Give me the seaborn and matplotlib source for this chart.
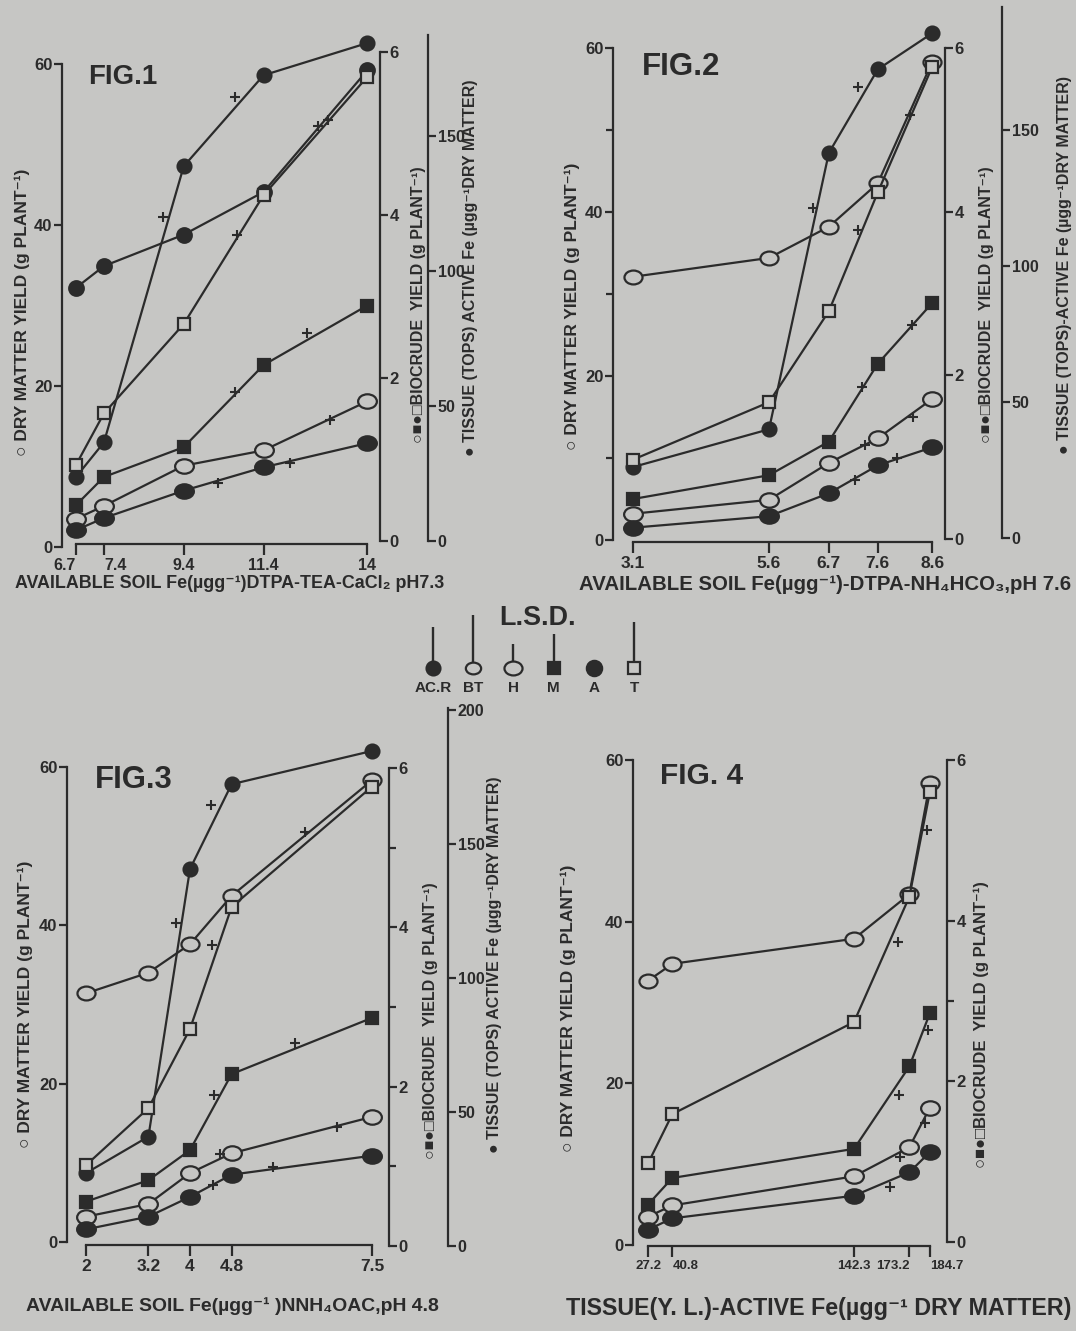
import matplotlib
matplotlib.use("Agg")
import matplotlib.pyplot as plt
import seaborn as sns
from matplotlib.path import Path
from matplotlib.transforms import Affine2D

# ---------------- data (left-axis units) ----------------
fig1_x = [6.7, 7.4, 9.4, 11.4, 14.0]
fig1_xticklabels = ['6.7', '7.4', '9.4', '11.4', '14']
fig1_tissue = [8.7, 13.0, 47.3, 58.6, 62.6]
fig1_upper = [32.2, 34.9, 38.8, 44.1, 59.2]
fig1_osq = [10.2, 16.6, 27.7, 43.7, 58.4]
fig1_fsq = [5.2, 8.7, 12.4, 22.6, 30.0]
fig1_ocirc = [3.5, 5.1, 10.1, 12.0, 18.1]
fig1_fcirc = [2.1, 3.6, 7.0, 9.9, 12.9]
fig1_plus_x = [8.88, 10.68, 10.73, 12.77, 13.02, 10.68, 12.5, 13.07, 10.26, 12.06]
fig1_plus_y = [41.0, 55.9, 38.8, 52.3, 53.0, 19.3, 26.6, 15.8, 7.9, 10.4]

fig2_x = [3.1, 5.6, 6.7, 7.6, 8.6]
fig2_xticklabels = ['3.1', '5.6', '6.7', '7.6', '8.6']
fig2_tissue = [8.9, 13.5, 47.2, 57.4, 61.8]
fig2_upper = [32.1, 34.4, 38.2, 43.5, 58.3]
fig2_osq = [9.8, 16.8, 27.9, 42.4, 57.7]
fig2_fsq = [5.0, 7.9, 12.0, 21.5, 28.9]
fig2_ocirc = [3.2, 4.9, 9.4, 12.4, 17.2]
fig2_fcirc = [1.5, 2.9, 5.7, 9.1, 11.3]
fig2_plus_x = [6.41, 7.24, 7.24, 8.19, 7.31, 8.23, 7.36, 8.25, 7.18, 7.95]
fig2_plus_y = [40.5, 55.3, 37.8, 51.8, 18.7, 26.2, 11.6, 15.0, 7.3, 10.0]

fig3_x = [2.0, 3.2, 4.0, 4.8, 7.5]
fig3_xticklabels = ['2', '3.2', '4', '4.8', '7.5']
fig3_tissue = [8.7, 13.3, 47.1, 57.8, 62.0]
fig3_upper = [31.4, 34.0, 37.6, 43.7, 58.3]
fig3_osq = [9.7, 16.9, 26.9, 42.3, 57.5]
fig3_fsq = [5.1, 7.8, 11.6, 21.2, 28.3]
fig3_ocirc = [3.2, 4.8, 8.7, 11.2, 15.8]
fig3_fcirc = [1.6, 3.2, 5.7, 8.5, 10.9]
fig3_plus_x = [3.73, 4.40, 4.42, 6.21, 4.46, 6.02, 4.58, 6.83, 4.44, 5.60]
fig3_plus_y = [40.3, 55.2, 37.5, 51.8, 18.6, 25.1, 11.1, 14.5, 7.2, 9.5]

fig4_x = [27.2, 40.8, 142.3, 173.2, 184.7]
fig4_xticklabels = ['27.2', '40.8', '142.3', '173.2', '184.7']
fig4_upper = [32.7, 34.8, 37.9, 43.4, 57.2]
fig4_osq = [10.1, 16.2, 27.6, 43.1, 56.1]
fig4_fsq = [5.0, 8.3, 11.9, 22.1, 28.7]
fig4_ocirc = [3.5, 4.9, 8.5, 12.1, 17.0]
fig4_fcirc = [1.9, 3.3, 6.1, 9.0, 11.5]
fig4_plus_x = [183.1, 166.9, 167.4, 183.6, 181.9, 168.0, 162.4]
fig4_plus_y = [51.4, 37.5, 18.6, 26.6, 15.1, 10.9, 7.2]

lsd_labels = ['AC.R', 'BT', 'H', 'M', 'A', 'T']
lsd_lengths = [35, 47, 18, 28, 0, 40]

left_ticks = [0, 20, 40, 60]
bio_ticks = [0, 2, 4, 6]
tissue_ticks = [0, 50, 100, 150]
tissue_ticks3 = [0, 50, 100, 150, 200]

# ---------------- style ----------------
sns.set_theme(style="ticks")
plt.rcParams['font.family'] = ['Liberation Sans Narrow', 'Liberation Sans', 'DejaVu Sans']
plt.rcParams['font.weight'] = 'bold'
BG = '#c6c6c4'
INK = '#2b2b2b'
plt.rcParams['axes.edgecolor'] = INK
plt.rcParams['figure.facecolor'] = BG
plt.rcParams['axes.facecolor'] = BG

W, H = 1076, 1331
fig = plt.figure(figsize=(W / 100, H / 100), dpi=100)
renderer = fig.canvas.get_renderer()

ELL = Path.unit_circle().transformed(Affine2D().scale(1.3, 1.0))
LW = 1.6


def fbox(l, r, t, b):
    return [l / W, 1 - b / H, (r - l) / W, (b - t) / H]


def put_text(s, xc, yc, length=None, rot=0, size=12, maxsize=None, **kw):
    t = fig.text(xc / W, 1 - yc / H, s, rotation=rot, ha='center', va='center',
                 fontsize=size, color=INK, **kw)
    if length:
        bb = t.get_window_extent(renderer=renderer)
        cur = bb.height if rot == 90 else bb.width
        new = size * length / cur
        if maxsize:
            new = min(new, maxsize)
        t.set_fontsize(new)
    return t


STY = {
    'tissue': dict(marker='o', ms=10, fc=INK),
    'upper_f': dict(marker='o', ms=10.5, fc=INK),
    'upper_o': dict(marker=ELL, ms=13, fc=BG),
    'osq': dict(marker='s', ms=9, fc=BG),
    'fsq': dict(marker='s', ms=9, fc=INK),
    'ocirc': dict(marker=ELL, ms=13.5, fc=BG),
    'fcirc': dict(marker=ELL, ms=13.5, fc=INK),
}


def style_twin(tw, pos, bound_top, ticks, minor, lsize):
    for s in ['top', 'bottom', 'left']:
        tw.spines[s].set_visible(False)
    tw.spines['right'].set_position(('axes', pos))
    tw.spines['right'].set_bounds(0, bound_top)
    tw.spines['right'].set_linewidth(1.6)
    tw.set_yticks(ticks)
    tw.set_yticklabels([str(v) for v in ticks])
    tw.set_yticks(minor, minor=True)
    tw.tick_params(axis='y', which='both', direction='out', right=True, left=False,
                   labelright=True, labelleft=False, width=1.6, colors=INK,
                   labelsize=lsize, pad=1)
    tw.tick_params(axis='y', which='major', length=6)
    tw.tick_params(axis='y', which='minor', length=5)
    tw.grid(False)


def draw_panel(p):
    l, r, t, b = p['box']
    ax = fig.add_axes(fbox(l, r, t, b))
    ax.set_facecolor('none')
    xs = p['x']
    for key, yv in p['series']:
        st = STY[key]
        sns.lineplot(x=xs, y=yv, ax=ax, color=INK, linewidth=LW, marker=st['marker'],
                     markersize=st['ms'], markerfacecolor=st['fc'], markeredgecolor=INK,
                     markeredgewidth=1.6, sort=False, estimator=None, legend=False)
    sns.scatterplot(x=p['plus_x'], y=p['plus_y'], ax=ax, marker='+', s=60, color=INK,
                    linewidth=1.5, legend=False, zorder=4)
    x0, x0px, sx = p['xmap']
    y0px, sy = p['ymap']
    ax.set_xlim(x0 + (l - x0px) / sx, x0 + (r - x0px) / sx)
    ax.set_ylim((y0px - b) / sy, (y0px - t) / sy)
    ax.set_xlabel('')
    ax.set_ylabel('')
    ax.spines['top'].set_visible(False)
    ax.spines['right'].set_visible(False)
    ax.spines['left'].set_bounds(0, 60)
    ax.spines['bottom'].set_position(('data', (y0px - p['xaxis_px']) / sy))
    ax.spines['bottom'].set_bounds(xs[0], xs[-1])
    for s in ['left', 'bottom']:
        ax.spines[s].set_linewidth(1.6)
    ax.set_xticks(xs)
    ax.set_xticklabels(p['xtl'])
    ax.set_yticks(left_ticks)
    ax.set_yticklabels([str(v) for v in left_ticks])
    ax.set_yticks(p.get('yminor', []), minor=True)
    ax.tick_params(axis='both', which='both', direction='out', width=1.6, colors=INK)
    ax.tick_params(axis='y', which='major', length=6, labelsize=12, pad=1)
    ax.tick_params(axis='y', which='minor', length=5)
    ax.tick_params(axis='x', length=8, labelsize=p.get('xtsize', 12.5), pad=2)
    for i, ha in p.get('xt_ha', {}).items():
        ax.get_xticklabels()[i].set_horizontalalignment(ha)
    ax.grid(False)

    bz, bs, bx = p['bio']
    bio = ax.twinx()
    bio.set_ylim((bz - b) / bs, (bz - t) / bs)
    style_twin(bio, (bx - l) / (r - l), 6, bio_ticks, p.get('bminor', []), 12)

    if 'tissue' in p:
        tz, ts, tx, ttop, tt = p['tissue']
        tis = ax.twinx()
        tis.set_ylim((tz - b) / ts, (tz - t) / ts)
        style_twin(tis, (tx - l) / (r - l), (tz - ttop) / ts, tt, [], 11.5)

    title, tl, tr, tyc = p['title']
    put_text(title, (tl + tr) / 2, tyc, length=tr - tl, size=22)
    for s, xc, yc, ln, mx in p['vlabels']:
        put_text(s, xc, yc, length=ln, rot=90, size=11, maxsize=mx)
    s, xl_, xr_, yc = p['xlabel']
    put_text(s, (xl_ + xr_) / 2, yc, length=xr_ - xl_, size=15)


DM = '\u25cb DRY MATTER YIELD (g PLANT\u207b\u00b9)'
BIO = '\u25cb\u25a0\u25cf\u25a1BIOCRUDE  YIELD (g PLANT\u207b\u00b9)'
TIS = '\u25cf TISSUE (TOPS) ACTIVE Fe (\u00b5gg\u207b\u00b9DRY MATTER)'
TIS2 = '\u25cf TISSUE (TOPS)-ACTIVE Fe (\u00b5gg\u207b\u00b9DRY MATTER)'

panels = [
    dict(x=fig1_x, xtl=fig1_xticklabels, xtsize=11.5, xt_ha={0: 'right', 1: 'left'},
         series=[('tissue', fig1_tissue), ('upper_f', fig1_upper), ('osq', fig1_osq),
                 ('fsq', fig1_fsq), ('ocirc', fig1_ocirc), ('fcirc', fig1_fcirc)],
         plus_x=fig1_plus_x, plus_y=fig1_plus_y,
         box=(62, 380, 20, 560), xmap=(6.7, 76, 39.9), ymap=(547, 8.05), xaxis_px=544,
         bio=(541, 81.5, 380), tissue=(541, 2.7, 428, 35, tissue_ticks),
         title=('FIG.1', 88, 157, 77),
         vlabels=[(DM, 22, 312, 309, 12.5), (BIO, 419, 305, 370, 11.5),
                  (TIS, 471, 268, 440, 11.5)],
         xlabel=('AVAILABLE SOIL Fe(\u00b5gg\u207b\u00b9)DTPA-TEA-CaCl\u2082 pH7.3', 15, 445, 584)),
    dict(x=fig2_x, xtl=fig2_xticklabels,
         series=[('tissue', fig2_tissue), ('upper_o', fig2_upper), ('osq', fig2_osq),
                 ('fsq', fig2_fsq), ('ocirc', fig2_ocirc), ('fcirc', fig2_fcirc)],
         plus_x=fig2_plus_x, plus_y=fig2_plus_y, yminor=[10, 30, 50],
         box=(613, 945, 5, 560), xmap=(3.1, 633, 54.4), ymap=(540, 8.2), xaxis_px=542,
         bio=(539, 81.8, 945), tissue=(538, 2.72, 1002, 7, tissue_ticks),
         title=('FIG.2', 642, 720, 67),
         vlabels=[(DM, 572, 306, 298, 12.5), (BIO, 986, 305, 351, 11.5),
                  (TIS2, 1064, 265, 430, 11.5)],
         xlabel=('AVAILABLE SOIL Fe(\u00b5gg\u207b\u00b9)-DTPA-NH\u2084HCO\u2083,pH 7.6', 578, 1072, 584)),
    dict(x=fig3_x, xtl=fig3_xticklabels,
         series=[('tissue', fig3_tissue), ('upper_o', fig3_upper), ('osq', fig3_osq),
                 ('fsq', fig3_fsq), ('ocirc', fig3_ocirc), ('fcirc', fig3_fcirc)],
         plus_x=fig3_plus_x, plus_y=fig3_plus_y, bminor=[1, 3, 5],
         box=(67, 389, 700, 1262), xmap=(2.0, 86, 52.0), ymap=(1242, 7.92), xaxis_px=1245,
         bio=(1246, 79.7, 389), tissue=(1246, 2.68, 448, 708, tissue_ticks3),
         title=('FIG.3', 95, 173, 780),
         vlabels=[(DM, 25, 1004, 302, 12.5), (BIO, 430, 1021, 352, 11.5),
                  (TIS, 495, 965, 440, 11.5)],
         xlabel=('AVAILABLE SOIL Fe(\u00b5gg\u207b\u00b9 )NNH\u2084OAC,pH 4.8', 25, 440, 1306)),
    dict(x=fig4_x, xtl=fig4_xticklabels, xtsize=9.5,
         xt_ha={1: 'left', 3: 'right', 4: 'left'},
         series=[('upper_o', fig4_upper), ('osq', fig4_osq), ('fsq', fig4_fsq),
                 ('ocirc', fig4_ocirc), ('fcirc', fig4_fcirc)],
         plus_x=fig4_plus_x, plus_y=fig4_plus_y, bminor=[3],
         box=(633, 947, 740, 1262), xmap=(27.2, 648, 1.79), ymap=(1245, 8.08), xaxis_px=1246,
         bio=(1242, 80.3, 947),
         title=('FIG. 4', 660, 743, 776),
         vlabels=[(DM, 568, 1008, 297, 12.5), (BIO, 981, 1025, 340, 12)],
         xlabel=('TISSUE(Y. L.)-ACTIVE Fe(\u00b5gg\u207b\u00b9 DRY MATTER)', 565, 1072, 1308)),
]

for p in panels:
    draw_panel(p)

# ---------------- L.S.D. legend ----------------
lax = fig.add_axes(fbox(400, 670, 600, 700))
lsd_styles = [dict(marker='o', ms=10, fc=INK), dict(marker=ELL, ms=11, fc=BG),
              dict(marker=ELL, ms=13, fc=BG), dict(marker='s', ms=9, fc=INK),
              dict(marker='o', ms=11, fc=INK), dict(marker='s', ms=9, fc=BG)]
base_y = 668
for i, (lab, ln) in enumerate(zip(lsd_labels, lsd_lengths)):
    xc = 433 + i * 40.2
    if ln > 0:
        lax.vlines(xc, base_y - 6 - ln, base_y, color=INK, linewidth=1.7)
    st = lsd_styles[i]
    sns.lineplot(x=[xc], y=[base_y], ax=lax, marker=st['marker'], markersize=st['ms'],
                 markerfacecolor=st['fc'], markeredgecolor=INK, markeredgewidth=1.6,
                 color=INK, legend=False)
    lax.text(xc, 688, lab, ha='center', va='center', fontsize=11, color=INK)
lax.set_xlim(400, 670)
lax.set_ylim(700, 600)
lax.axis('off')
put_text('L.S.D.', 538, 618, length=77, size=14)

fig.savefig('out.png', dpi=100, facecolor=BG)
